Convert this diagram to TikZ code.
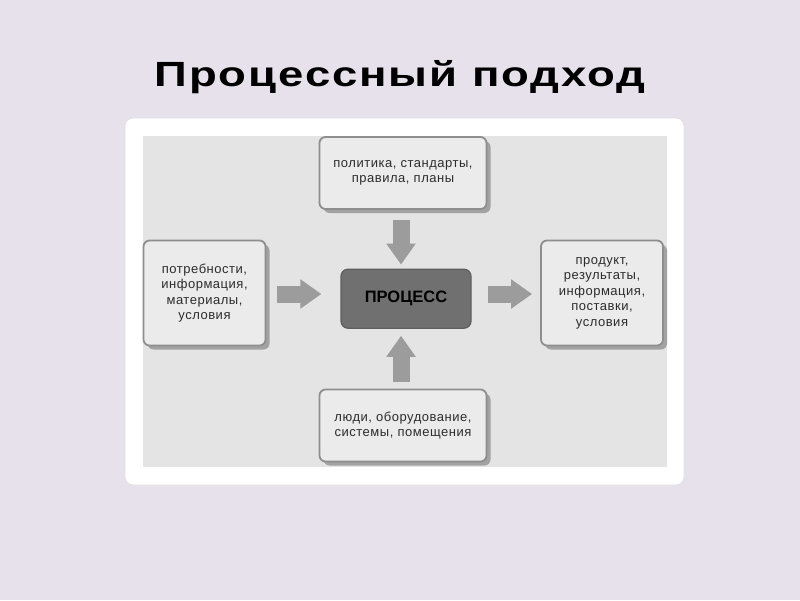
\documentclass[tikz,border=0pt]{standalone}
\usepackage{fontspec}
\setmainfont{Liberation Sans}
\newfontfamily\titlefont[FakeStretch=1.3,LetterSpace=5.5]{Liberation Sans}
\newfontfamily\boxfont[LetterSpace=4]{Liberation Sans}
\usetikzlibrary{arrows.meta,shadows}
\definecolor{bgc}{HTML}{E6E1EB}
\definecolor{areac}{HTML}{E4E4E4}
\definecolor{boxfill}{HTML}{EBEBEB}
\definecolor{boxline}{HTML}{8E8E8E}
\definecolor{shadowc}{HTML}{A2A2A2}
\definecolor{procfill}{HTML}{707070}
\definecolor{procline}{HTML}{5E5E5E}
\definecolor{arrowc}{HTML}{9C9C9C}
\definecolor{txtc}{HTML}{2C2C2C}
\begin{document}
\begin{tikzpicture}[x=1pt,y=-1pt,
  infobox/.style={draw=boxline, line width=1.8pt, fill=boxfill, rounded corners=6pt,
    align=center, text=txtc, inner sep=0pt,
    font=\boxfont\fontsize{13}{15.5}\selectfont,
    general shadow={fill=shadowc, shadow xshift=4pt, shadow yshift=-4pt}},
  procbox/.style={draw=procline, line width=1.2pt, fill=procfill, rounded corners=7pt,
    minimum width=130pt, minimum height=59pt, text=black,
    font=\fontsize{16.5}{18}\selectfont\bfseries},
  bigarrow/.style={draw=arrowc, line width=17pt, -{Triangle[length=21pt,width=28pt]}}
]
\useasboundingbox (0,0) rectangle (800,600);
\fill[bgc] (0,0) rectangle (800,600);
% title
\node[anchor=base, font=\titlefont\fontsize{35}{38}\selectfont\bfseries, text=black] (title) at (400,86) {Процессный подход};
% panel
\fill[white, draw=black!12, line width=0.8pt, rounded corners=8pt] (125,118) rectangle (684,485);
\fill[areac] (143,136) rectangle (667,467);
% boxes
\node[infobox, minimum width=167pt, minimum height=72pt] (top) at (403,173)
  {политика, стандарты,\\правила, планы};
\node[infobox, minimum width=122pt, minimum height=105pt] (left) at (204.5,293)
  {потребности,\\информация,\\материалы,\\условия};
\node[infobox, minimum width=122pt, minimum height=105pt] (right) at (602,293)
  {продукт,\\результаты,\\информация,\\поставки,\\условия};
\node[infobox, minimum width=167pt, minimum height=72pt] (bottom) at (403,425.5)
  {люди, оборудование,\\системы, помещения};
\node[procbox] (proc) at (406,298.7) {ПРОЦЕСС};
% arrows
\draw[bigarrow] ([xshift=-2pt,yshift=-10pt]top.south) -- ([xshift=-5pt,yshift=4pt]proc.north);
\draw[bigarrow] ([xshift=-2pt,yshift=7pt]bottom.north) -- ([xshift=-5pt,yshift=-7pt]proc.south);
\draw[bigarrow] ([xshift=10.5pt,yshift=-1pt]left.east) -- ([xshift=-19pt,yshift=4.7pt]proc.west);
\draw[bigarrow] ([xshift=16pt,yshift=4.7pt]proc.east) -- ([xshift=-8pt,yshift=-1pt]right.west);
\end{tikzpicture}
\end{document}
